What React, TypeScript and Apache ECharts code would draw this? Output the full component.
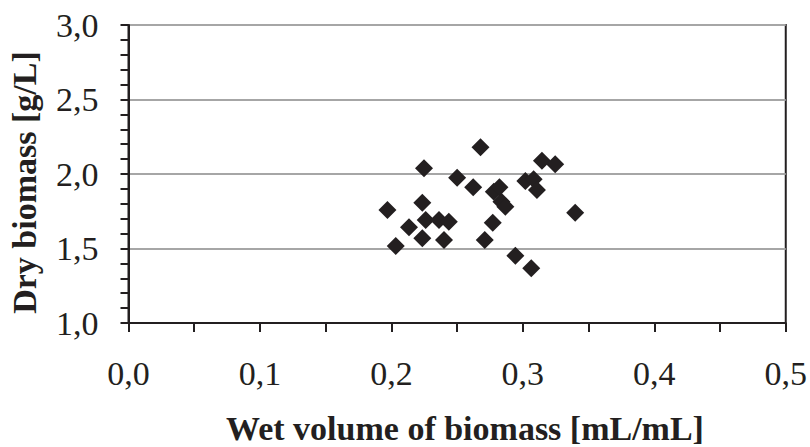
import React, { useEffect, useRef } from "react";
import * as echarts from "echarts";

const wetVolume = [
  0.197, 0.2033, 0.2134, 0.2235, 0.2248, 0.2261, 0.2235, 0.2362, 0.2437, 0.24,
  0.25, 0.2622, 0.2678, 0.271, 0.2771, 0.2779, 0.2822, 0.2837, 0.2867, 0.2943,
  0.3019, 0.3082, 0.3107, 0.3064, 0.3145, 0.3246, 0.3398,
];
const dryBiomass = [
  1.758, 1.517, 1.642, 1.807, 2.038, 1.691, 1.568, 1.691, 1.68, 1.557,
  1.975, 1.911, 2.179, 1.557, 1.673, 1.881, 1.911, 1.814, 1.781, 1.452,
  1.953, 1.964, 1.893, 1.367, 2.089, 2.065, 1.74,
];
const xTickLabels = ["0,0", "0,1", "0,2", "0,3", "0,4", "0,5"];
const yTickLabels = ["1,0", "1,5", "2,0", "2,5", "3,0"];
const xTitle = "Wet volume of biomass [mL/mL]";
const yTitle = "Dry biomass [g/L]";

const FONT = "Liberation Serif";

export default function App() {
  const ref = useRef<HTMLDivElement>(null);
  useEffect(() => {
    if (!ref.current) return;
    const chart = echarts.init(ref.current, undefined, { renderer: "svg" });
    const data = wetVolume.map((x, i) => [x, dryBiomass[i]]);
    chart.setOption({
      animation: false,
      backgroundColor: "#ffffff",
      grid: {
        left: 128.5,
        right: 22,
        top: 25,
        bottom: 124,
        show: true,
        borderColor: "#231f20",
        borderWidth: 2,
        backgroundColor: "transparent",
      },
      xAxis: {
        type: "value",
        min: 0,
        max: 0.5,
        interval: 0.1,
        axisLine: { show: true, lineStyle: { color: "#231f20", width: 2 } },
        axisTick: { show: true, length: 9, lineStyle: { color: "#231f20", width: 2 } },
        minorTick: { show: true, splitNumber: 2, length: 9, lineStyle: { color: "#231f20", width: 2 } },
        splitLine: { show: false },
        axisLabel: {
          margin: 33,
          fontFamily: FONT,
          fontSize: 34,
          color: "#231f20",
          formatter: (v: number) => xTickLabels[Math.round(v * 10)] ?? "",
        },
      },
      yAxis: {
        type: "value",
        min: 1,
        max: 3,
        interval: 0.5,
        axisLine: { show: true, lineStyle: { color: "#231f20", width: 2 } },
        axisTick: { show: true, length: 8, lineStyle: { color: "#231f20", width: 2 } },
        minorTick: { show: true, splitNumber: 5, length: 8, lineStyle: { color: "#231f20", width: 2 } },
        splitLine: { show: true, lineStyle: { color: "#a6a6a6", width: 2 } },
        axisLabel: {
          margin: 30,
          fontFamily: FONT,
          fontSize: 34,
          color: "#231f20",
          formatter: (v: number) => yTickLabels[Math.round((v - 1) * 2)] ?? "",
        },
      },
      graphic: [
        {
          type: "text",
          x: 465,
          y: 428.5,
          style: {
            text: xTitle,
            fontFamily: FONT,
            fontWeight: "bold",
            fontSize: 34,
            fill: "#231f20",
            textAlign: "center",
            textVerticalAlign: "middle",
          },
        },
        {
          type: "text",
          x: 24,
          y: 182.5,
          rotation: Math.PI / 2,
          style: {
            text: yTitle,
            fontFamily: FONT,
            fontWeight: "bold",
            fontSize: 34,
            fill: "#231f20",
            textAlign: "center",
            textVerticalAlign: "middle",
          },
        },
      ],
      series: [
        {
          type: "scatter",
          data,
          symbol: "diamond",
          symbolSize: 18,
          itemStyle: { color: "#231f20", opacity: 1 },
        },
      ],
    });
    return () => chart.dispose();
  }, []);
  return <div ref={ref} style={{ width: 810, height: 447, position: "absolute", left: 0, top: 0 }} />;
}
